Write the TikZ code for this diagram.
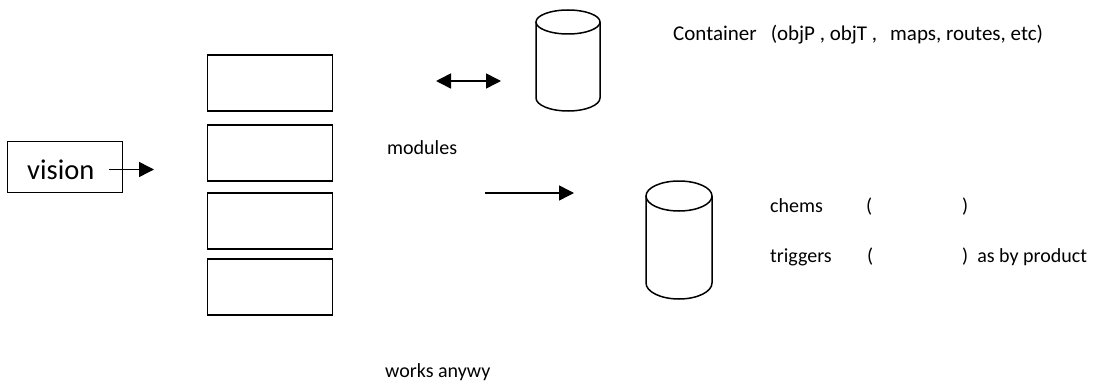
\documentclass[tikz,border=0pt]{standalone}
\usepackage{fontspec}
\setmainfont{Carlito}
\usetikzlibrary{arrows.meta}
\begin{document}
\begin{tikzpicture}[x=1pt,y=-1pt,
  boxline/.style={draw=black,line width=1.7pt},
  modbox/.style={boxline,minimum width=125pt,minimum height=56pt,inner sep=0pt},
  label/.style={anchor=base west,inner sep=0pt,font=\fontsize{20}{24}\selectfont},
  conn/.style={line width=1.5pt,-{Triangle[length=15pt,width=15pt]}},
  biconn/.style={line width=1.5pt,{Triangle[length=15pt,width=15pt]}-{Triangle[length=15pt,width=15pt]}},
  cyl/.style={line width=1.5pt}]
\useasboundingbox (0,0) rectangle (1099,385);

% input box
\node[boxline,minimum width=115pt,minimum height=51pt,inner sep=0pt] (vision) at (65,167) {};
\node[anchor=base west,inner sep=0pt,font=\fontsize{28.5}{32}\selectfont] (visiontxt) at (27,179.5) {vision};

% module stack
\node[modbox] (m1) at (270,83) {};
\node[modbox] (m2) at (270,153) {};
\node[modbox] (m3) at (270,221) {};
\node[modbox] (m4) at (270,287) {};

\coordinate (vs) at (109,169.5);
\coordinate (ve) at (154,169.5);
\draw[conn] (vs) -- (ve);

\node[label] (modules) at (387,154) {modules};

% container store
\draw[cyl] (600,22) -- (600,98) arc[start angle=0,end angle=180,x radius=32,y radius=13] -- (536,22);
\draw[cyl] (568,22) ellipse[x radius=32,y radius=12];
\node[inner sep=0pt,minimum width=64pt,minimum height=100pt] (store1) at (568,60) {};

\coordinate (da) at (436,81);
\coordinate (db) at (501,81);
\draw[biconn] (da) -- (db);

\node[label,font=\fontsize{21}{25}\selectfont] (container) at (673,41)
  {Container\hspace{14pt}(objP , objT ,\hspace{13pt}maps, routes, etc)};

% chems / triggers store
\draw[cyl] (712,196) -- (712,283) arc[start angle=0,end angle=180,x radius=33,y radius=16] -- (646,196);
\draw[cyl] (679,196) ellipse[x radius=33,y radius=15];
\node[inner sep=0pt,minimum width=66pt,minimum height=118pt] (store2) at (679,240) {};

\coordinate (oa) at (485,193);
\coordinate (ob) at (574,193);
\draw[conn] (oa) -- (ob);

\node[label] (chems) at (770,212) {chems};
\node[label] (chl) at (866,212) {(};
\node[label] (chr) at (962,212) {)};
\node[label] (triggers) at (770,262) {triggers};
\node[label] (trl) at (867,262) {(};
\node[label] (trr) at (962,262) {)\ \ as by product};

\node[label] (works) at (385,377) {works anywy};
\end{tikzpicture}
\end{document}
